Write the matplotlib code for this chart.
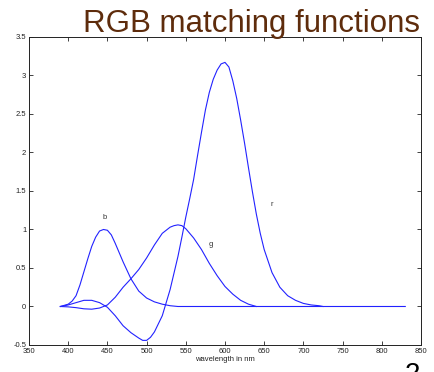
import numpy as np
import matplotlib
matplotlib.use("Agg")
import matplotlib.pyplot as plt

plt.rcParams["font.family"] = ["Liberation Sans", "DejaVu Sans"]

# ── data (wavelength in nm) ─────────────────────────────────────────────────
wl_r = [390, 400, 410, 420, 430, 440, 450, 460, 470, 480, 490, 495, 500, 505,
        510, 520, 530, 540, 545, 550, 555, 560, 565, 570, 575, 580, 585, 590,
        595, 600, 605, 610, 615, 620, 625, 630, 635, 640, 645, 650, 660, 670,
        680, 690, 700, 710, 720, 725]
r_bar = [0.0, 0.02, 0.05, 0.08, 0.08, 0.05, -0.01, -0.12, -0.25, -0.34, -0.41,
         -0.44, -0.44, -0.40, -0.33, -0.12, 0.22, 0.65, 0.90, 1.16, 1.40, 1.65,
         1.96, 2.26, 2.55, 2.78, 2.95, 3.07, 3.15, 3.17, 3.11, 2.93, 2.70,
         2.42, 2.12, 1.80, 1.49, 1.20, 0.95, 0.74, 0.44, 0.25, 0.14, 0.08,
         0.04, 0.02, 0.01, 0.0]

wl_g = [390, 400, 410, 420, 430, 440, 450, 460, 470, 480, 490, 500, 510, 520,
        530, 535, 540, 545, 550, 560, 570, 580, 590, 600, 610, 620, 630, 640]
g_bar = [0.0, -0.005, -0.015, -0.03, -0.035, -0.02, 0.02, 0.12, 0.25, 0.36,
         0.48, 0.63, 0.80, 0.95, 1.03, 1.05, 1.06, 1.05, 1.01, 0.89, 0.74,
         0.56, 0.40, 0.26, 0.16, 0.08, 0.03, 0.0]

wl_b = [390, 400, 405, 410, 415, 420, 425, 430, 435, 440, 445, 450, 455, 460,
        465, 470, 480, 490, 500, 510, 520, 530, 540, 580, 830]
b_bar = [0.0, 0.03, 0.07, 0.14, 0.28, 0.45, 0.62, 0.78, 0.90, 0.98, 1.0, 0.99,
         0.93, 0.82, 0.70, 0.58, 0.36, 0.20, 0.11, 0.06, 0.03, 0.01, 0.0, 0.0,
         0.0]

curve_labels = ["r", "g", "b"]
label_pos = [(660, 1.32), (582, 0.80), (446, 1.16)]

x_ticks = list(range(350, 851, 50))
y_ticks = [-0.5, 0, 0.5, 1, 1.5, 2, 2.5, 3, 3.5]
y_tick_labels = ["-0.5", "0", "0.5", "1", "1.5", "2", "2.5", "3", "3.5"]

_LINE = "#2222ff"
_TITLE = "#5e2c0c"

fig = plt.figure(figsize=(4.35, 3.72), dpi=100, facecolor="white")
ax = fig.add_axes([0.0667, 0.0726, 0.901, 0.828])

for wl, vals in [(wl_r, r_bar), (wl_g, g_bar), (wl_b, b_bar)]:
    ax.plot(wl, vals, color=_LINE, linewidth=0.8)

for name, (lx, ly) in zip(curve_labels, label_pos):
    ax.text(lx, ly, name, fontsize=5.5, color="#333333", ha="center", va="center")

ax.set_xlim(350, 850)
ax.set_ylim(-0.5, 3.5)
ax.set_xticks(x_ticks)
ax.set_yticks(y_ticks)
ax.set_yticklabels(y_tick_labels)
ax.tick_params(direction="in", length=3, width=0.6, labelsize=5.5,
               top=True, right=True, pad=2, colors="#222222")
for spine in ax.spines.values():
    spine.set_linewidth(0.7)
    spine.set_edgecolor("#222222")
ax.set_xlabel("wavelength in nm", fontsize=5.5, labelpad=1, color="#222222")

fig.text(0.966, 0.915, "RGB matching functions", fontsize=22.5, color=_TITLE,
         ha="right", va="baseline")
fig.text(0.93, 0.028, "2", fontsize=20, color="black", ha="left", va="top")

fig.savefig("out.png", dpi=100, facecolor="white")
